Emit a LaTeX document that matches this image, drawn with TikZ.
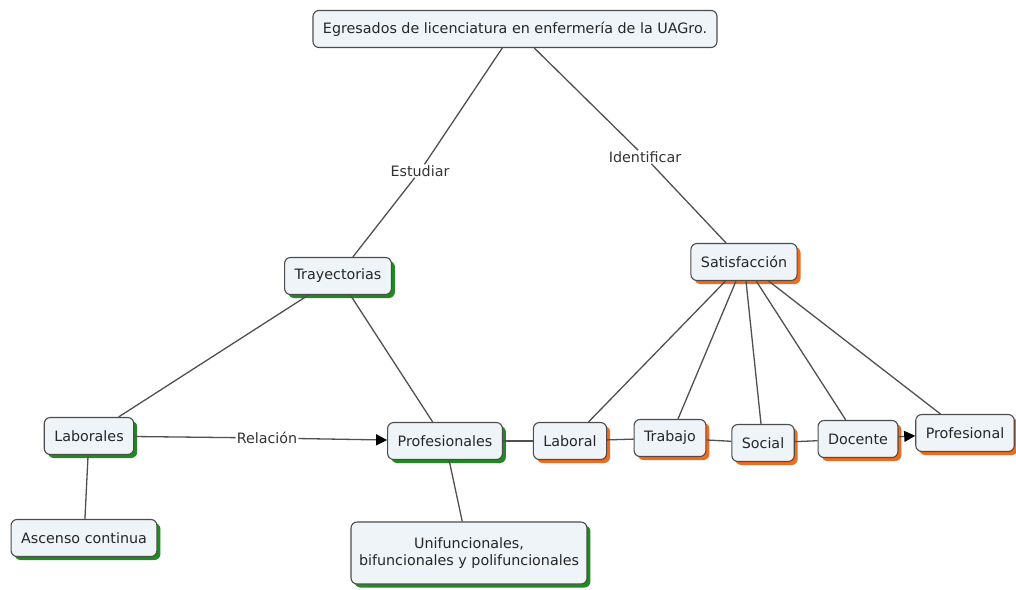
\documentclass[tikz,border=0pt]{standalone}
\usepackage{fontspec}
\setmainfont{DejaVu Sans}
\usepackage{xcolor}
\usetikzlibrary{shapes,arrows,arrows.meta}
\usetikzlibrary{shadows}

\definecolor{cmapfill}{HTML}{EEF4F8}
\definecolor{shadegreen}{HTML}{1F8A1F}
\definecolor{shadeorange}{HTML}{F26B1D}
\definecolor{linkgray}{HTML}{505050}

\begin{document}
\begin{tikzpicture}[x=1pt,y=-1pt,
  font=\fontsize{14.3}{17}\selectfont,
  concept/.style={rectangle,rounded corners=6pt,draw=black!70,line width=1.1pt,fill=cmapfill,inner xsep=10pt,minimum height=37pt,text=black!85},
  greenbox/.style={concept,drop shadow={shadow xshift=3.5pt,shadow yshift=-3.5pt,fill=shadegreen,opacity=1}},
  orangebox/.style={concept,drop shadow={shadow xshift=3.5pt,shadow yshift=-3.5pt,fill=shadeorange,opacity=1}},
  link/.style={draw=linkgray,line width=1.3pt},
  tip/.style={-{Triangle[length=11pt,width=11pt,black]}},
  phrase/.style={fill=white,inner sep=1pt,text=black!80}]

\useasboundingbox (0,0) rectangle (1016,589);

%concepts
\node[concept] (egresados) at (515,29) {Egresados de licenciatura en enfermería de la UAGro.};
\node[greenbox] (trayect) at (338,276) {Trayectorias};
\node[orangebox] (satisf) at (744,262) {Satisfacción};
\node[greenbox] (laborales) at (89,436) {Laborales};
\node[greenbox] (profes) at (445,441) {Profesionales};
\node[greenbox] (ascenso) at (84,538) {Ascenso continua};
\node[greenbox,align=center,minimum height=62pt,inner xsep=8pt] (unifunc) at (469,553) {Unifuncionales,\\bifuncionales y polifuncionales};
\node[orangebox] (laboral) at (570,441) {Laboral};
\node[orangebox] (trabajo) at (670,438) {Trabajo};
\node[orangebox] (social) at (763,443) {Social};
\node[orangebox] (docente) at (858,439) {Docente};
\node[orangebox] (profesional) at (965,433) {Profesional};

%linking phrases
\node[phrase] (estudiar) at (420,171) {Estudiar};
\node[phrase] (identif) at (645,157) {Identificar};
\node[phrase] (relacion) at (267,438) {Relación};

%links
\draw[link] (egresados) -- (estudiar);
\draw[link] (estudiar) -- (trayect);
\draw[link] (egresados) -- (identif);
\draw[link] (identif) -- (satisf);
\draw[link] (trayect) -- (laborales);
\draw[link] (trayect) -- (profes);
\draw[link] (laborales) -- (ascenso);
\draw[link] (laborales) -- (relacion);
\draw[link,tip] (relacion) -- (profes);
\draw[link] (profes) -- (unifunc);
\draw[link] (profes) -- (laboral);
\draw[link] (laboral) -- (trabajo);
\draw[link] (trabajo) -- (social);
\draw[link] (social) -- (docente);
\draw[link,tip] (docente) -- (profesional);
\foreach \n in {laboral,trabajo,social,docente,profesional}
  \draw[link] (satisf) -- (\n);

\end{tikzpicture}
\end{document}
